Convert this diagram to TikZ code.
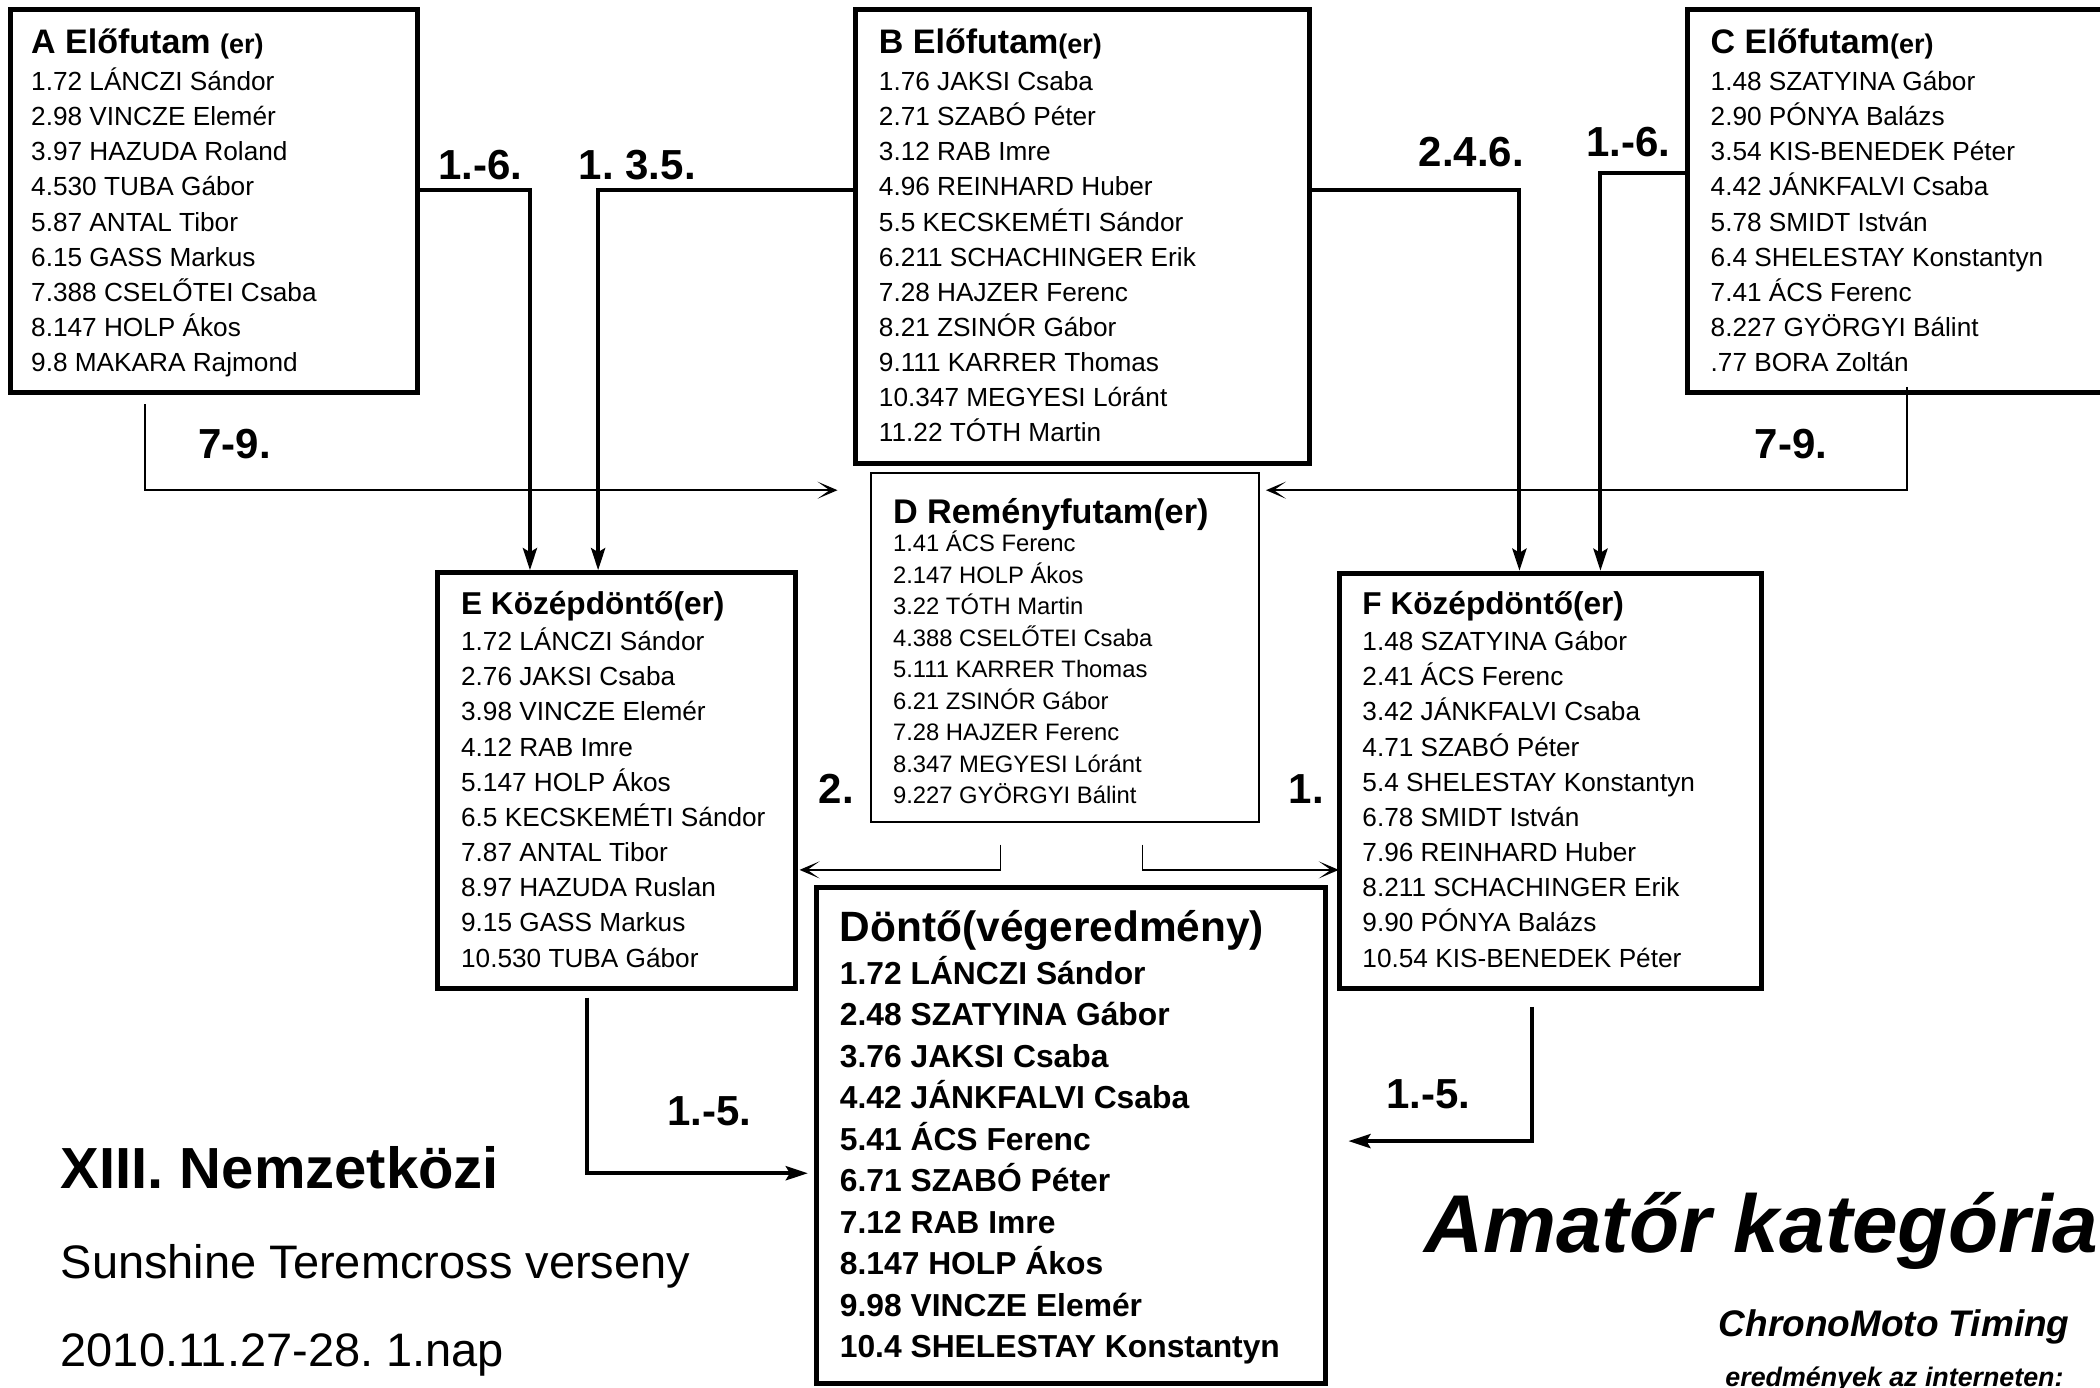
\documentclass[tikz,border=0pt]{standalone}
\usepackage{fontspec}
\setmainfont{Liberation Sans}
\usetikzlibrary{fit,arrows.meta}
\frenchspacing
\newcommand\myfs[1]{\fontsize{#1}{#1}\selectfont}
\newcommand\rowlist[6]{\foreach \t [count=\i from 0] in {#6} {\node[anchor=base west, inner sep=0pt, font=#5] (#1\i) at (#2,{#3+\i*#4}) {\t};}}
\tikzset{
 box/.style={draw, line width=2.5pt, inner sep=0pt},
 thinbox/.style={draw, line width=1pt, inner sep=0pt},
 thickarr/.style={line width=2pt, -{Stealth[length=11pt,width=7pt,inset=2pt]}},
 thinarr/.style={line width=0.9pt, -{Stealth[length=10pt,width=8.5pt,inset=6pt]}},
 lbl/.style={font=\bfseries\myfs{21}, anchor=base west, inner sep=0pt},
 ttl/.style={anchor=base west, inner sep=0pt},
}
\begin{document}
\begin{tikzpicture}[x=0.6696pt, y=-0.6696pt]
\useasboundingbox (0,0) rectangle (1568,1036);
\clip (0,0) rectangle (1568,1036);
\fill[white] (0,0) rectangle (1568,1036);
% boxes
\node[box, fit={(8,7) (312,293)}] (A) {};
\node[box, fit={(638.5,7) (977.5,346)}] (B) {};
\node[box, fit={(1260,7) (1600,293)}] (C) {};
\node[thinbox, fit={(650,353) (940,614)}] (D) {};
\node[box, fit={(327,427.6) (593.6,737.8)}] (E) {};
\node[box, fit={(1000,428) (1315,738)}] (F) {};
\node[box, fit={(610,663) (990,1033)}] (G) {};
% titles
\node[ttl] (At) at (23,40) {\bfseries\myfs{17}A Előfutam \myfs{13.5}(er)};
\node[ttl] (Bt) at (656,40) {\bfseries\myfs{17}B Előfutam\myfs{13.5}(er)};
\node[ttl] (Ct) at (1277,40) {\bfseries\myfs{17}C Előfutam\myfs{13.5}(er)};
\node[ttl] (Dt) at (666.5,390.7) {\bfseries\myfs{17.1}D Reményfutam(er)};
\node[ttl] (Et) at (344,459) {\bfseries\myfs{15.8}E Középdöntő(er)};
\node[ttl] (Ft) at (1017,459) {\bfseries\myfs{15.8}F Középdöntő(er)};
\node[ttl] (Gt) at (626.8,703) {\bfseries\myfs{21.2}Döntő(végeredmény)};
% lists
\rowlist{A}{23}{67.7}{26.2}{\myfs{13.1}}{1.72 LÁNCZI Sándor, 2.98 VINCZE Elemér, 3.97 HAZUDA Roland, 4.530 TUBA Gábor, 5.87 ANTAL Tibor, 6.15 GASS Markus, 7.388 CSELŐTEI Csaba, 8.147 HOLP Ákos, 9.8 MAKARA Rajmond}
\rowlist{B}{656}{67.7}{26.2}{\myfs{13.1}}{1.76 JAKSI Csaba, 2.71 SZABÓ Péter, 3.12 RAB Imre, 4.96 REINHARD Huber, 5.5 KECSKEMÉTI Sándor, 6.211 SCHACHINGER Erik, 7.28 HAJZER Ferenc, 8.21 ZSINÓR Gábor, 9.111 KARRER Thomas, 10.347 MEGYESI Lóránt, 11.22 TÓTH Martin}
\rowlist{C}{1277}{67.7}{26.2}{\myfs{13.1}}{1.48 SZATYINA Gábor, 2.90 PÓNYA Balázs, 3.54 KIS-BENEDEK Péter, 4.42 JÁNKFALVI Csaba, 5.78 SMIDT István, 6.4 SHELESTAY Konstantyn, 7.41 ÁCS Ferenc, 8.227 GYÖRGYI Bálint, .77 BORA Zoltán}
\rowlist{D}{666.5}{412}{23.5}{\myfs{11.9}}{1.41 ÁCS Ferenc, 2.147 HOLP Ákos, 3.22 TÓTH Martin, 4.388 CSELŐTEI Csaba, 5.111 KARRER Thomas, 6.21 ZSINÓR Gábor, 7.28 HAJZER Ferenc, 8.347 MEGYESI Lóránt, 9.227 GYÖRGYI Bálint}
\rowlist{E}{344}{485.8}{26.25}{\myfs{13.1}}{1.72 LÁNCZI Sándor, 2.76 JAKSI Csaba, 3.98 VINCZE Elemér, 4.12 RAB Imre, 5.147 HOLP Ákos, 6.5 KECSKEMÉTI Sándor, 7.87 ANTAL Tibor, 8.97 HAZUDA Ruslan, 9.15 GASS Markus, 10.530 TUBA Gábor}
\rowlist{F}{1017}{485.8}{26.25}{\myfs{13.1}}{1.48 SZATYINA Gábor, 2.41 ÁCS Ferenc, 3.42 JÁNKFALVI Csaba, 4.71 SZABÓ Péter, 5.4 SHELESTAY Konstantyn, 6.78 SMIDT István, 7.96 REINHARD Huber, 8.211 SCHACHINGER Erik, 9.90 PÓNYA Balázs, 10.54 KIS-BENEDEK Péter}
\rowlist{G}{626.8}{735}{30.96}{\bfseries\myfs{15.9}}{1.72 LÁNCZI Sándor, 2.48 SZATYINA Gábor, 3.76 JAKSI Csaba, 4.42 JÁNKFALVI Csaba, 5.41 ÁCS Ferenc, 6.71 SZABÓ Péter, 7.12 RAB Imre, 8.147 HOLP Ákos, 9.98 VINCZE Elemér, 10.4 SHELESTAY Konstantyn}
% connectors
\draw[thickarr] (A.east |- 0,142) -| (E.north -| 395.7,0);
\draw[thickarr] (B.west |- 0,142) -| (E.north -| 446.6,0);
\draw[thickarr] (B.east |- 0,142) -| (F.north -| 1134.5,0);
\draw[thickarr] (C.west |- 0,129) -| (F.north -| 1195,0);
\draw[thinarr, shorten <=4.7pt, shorten >=16pt] (A.south -| 108,0) |- (D.west |- 0,366);
\draw[thinarr, shorten >=3pt] (C.south -| 1424,0) ++(0,-6) |- (D.east |- 0,366);
\draw[thinarr, shorten <=10.7pt, shorten >=1pt] (D.south -| 747,0) |- (E.east |- 0,649.5);
\draw[thinarr, shorten <=10.7pt, shorten >=-1pt] (D.south -| 853,0) |- (F.west |- 0,649.5);
\draw[thickarr, shorten <=3.5pt, shorten >=3.3pt] (E.south -| 438,0) |- (G.west |- 0,876);
\draw[thickarr, shorten <=8pt, shorten >=10pt] (F.south -| 1144,0) |- (G.east |- 0,852);
% labels
\node[lbl] (l1) at (327,134) {1.-6.};
\node[lbl] (l2) at (432,134) {1. 3.5.};
\node[lbl] (l3) at (1059,124) {2.4.6.};
\node[lbl] (l4) at (1184,117) {1.-6.};
\node[lbl] (l5) at (148,342) {7-9.};
\node[lbl] (l6) at (1310,342) {7-9.};
\node[lbl] (l7) at (611,600) {2.};
\node[lbl] (l8) at (962,600) {1.};
\node[lbl] (l9) at (498,840) {1.-5.};
\node[lbl] (l10) at (1035,828) {1.-5.};
% bottom texts
\node[ttl] (t1) at (45,887.5) {\bfseries\myfs{29}XIII. Nemzetközi};
\node[ttl] (t2) at (45,954.5) {\myfs{23.5}Sunshine Teremcross verseny};
\node[ttl] (t3) at (45,1020.5) {\myfs{23.5}2010.11.27-28. 1.nap};
\node[ttl] (t4) at (1063,935) {\bfseries\itshape\myfs{41}Amatőr kategória};
\node[ttl] (t5) at (1283,998) {\bfseries\itshape\myfs{18.5}ChronoMoto Timing};
\node[ttl] (t6) at (1288,1035) {\bfseries\itshape\myfs{13.4}eredmények az interneten:};
\end{tikzpicture}
\end{document}
